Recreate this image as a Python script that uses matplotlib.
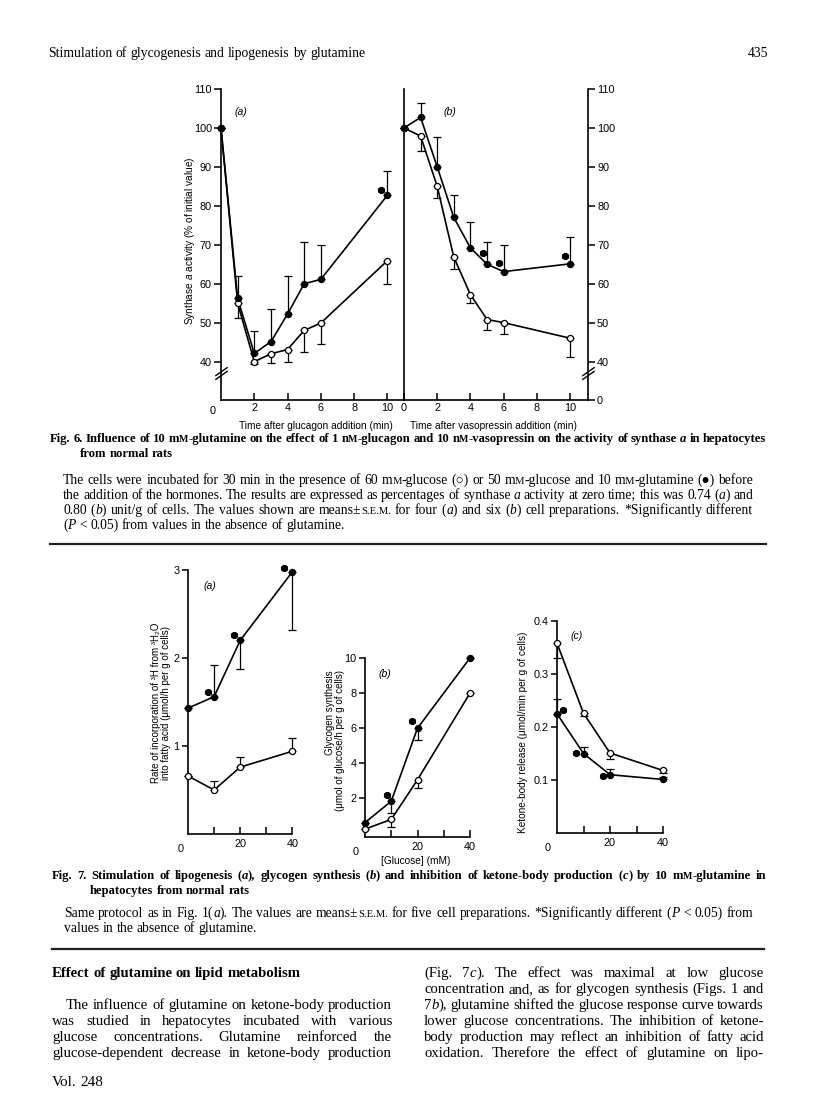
import numpy as np
import matplotlib
matplotlib.use('Agg')
import matplotlib.pyplot as plt
from matplotlib.path import Path
from matplotlib.lines import Line2D

W, H = 816, 1096
SANS = ['Liberation Sans', 'DejaVu Sans']
SERIF = ['Liberation Serif', 'DejaVu Serif']
plt.rcParams['font.family'] = SANS
plt.rcParams['mathtext.fontset'] = 'custom'
plt.rcParams['mathtext.rm'] = 'Liberation Sans'
plt.rcParams['mathtext.it'] = 'Liberation Sans:italic'

# ---------------- Fig. 6 data ----------------
time_min = [0, 1, 2, 3, 4, 5, 6, 10]
glucagon_gln = [100, 56.2, 42.1, 45.1, 52.2, 60.0, 61.1, 82.7]
glucagon_gln_sem = [0, 5.8, 5.8, 8.4, 9.7, 10.8, 8.9, 6.3]
glucagon_ctl = [100, 55.0, 39.9, 42.0, 43.1, 48.0, 49.9, 65.9]
glucagon_ctl_sem = [0, 3.9, 2.3, 3.0, 3.1, 5.6, 5.4, 6.0]
glucagon_sig_t = [9.6]
glucagon_sig_y = [84.1]

vaso_gln = [100, 102.7, 90, 77, 69.2, 65, 63.1, 65.1]
vaso_gln_sem = [0, 3.8, 7.7, 5.9, 6.6, 5.8, 6.9, 6.9]
vaso_ctl = [100, 97.9, 85, 66.8, 57.2, 50.8, 50, 46]
vaso_ctl_sem = [0, 3.9, 3.0, 3.0, 2.2, 2.6, 3.0, 4.7]
vaso_sig_t = [4.75, 5.75, 9.7]
vaso_sig_y = [67.9, 65.3, 67]

fig6_yticks = [40, 50, 60, 70, 80, 90, 100, 110]
fig6_xticks = [0, 2, 4, 6, 8, 10]

# ---------------- Fig. 7 data ----------------
glucose_mM = [0, 10, 20, 40]
lipo_gln = [1.43, 1.56, 2.2, 2.98]
lipo_gln_lo = [0, 0, 0.325, 0.66]
lipo_gln_hi = [0, 0.36, 0, 0]
lipo_ctl = [0.66, 0.5, 0.76, 0.94]
lipo_ctl_hi = [0, 0.1, 0.12, 0.15]
lipo_sig_x = [7.5, 17.75, 36.6]
lipo_sig_y = [1.61, 2.26, 3.02]

glyc_gln = [0.62, 1.84, 6.0, 10.0]
glyc_gln_lo = [0, 0.65, 0.65, 0]
glyc_ctl = [0.25, 0.8, 3.06, 8.0]
glyc_ctl_lo = [0, 0.45, 0.48, 0]
glyc_sig_x = [8.4, 17.8]
glyc_sig_y = [2.2, 6.4]

ket_ctl = [0.358, 0.226, 0.151, 0.118]
ket_ctl_lo = [0.027, 0.006, 0.011, 0.004]
ket_gln = [0.225, 0.150, 0.110, 0.101]
ket_gln_hi = [0.027, 0.013, 0.010, 0.004]
ket_sig_x = [2.3, 7.3, 17.2]
ket_sig_y = [0.233, 0.151, 0.107]

fig = plt.figure(figsize=(W / 100, H / 100), dpi=100)


def px_axes(x0, y0, x1, y1):
    return fig.add_axes([x0 / W, 1 - y1 / H, (x1 - x0) / W, (y1 - y0) / H])


LW = 1.2
MS = 4.4
TICK_FS = 7.8
AST = (6, 2, 0)


def series(ax, x, y, lo, hi, filled):
    lo = np.asarray(lo, float)
    hi = np.asarray(hi, float)
    ax.errorbar(x, y, yerr=[lo, hi], fmt='none', ecolor='k', elinewidth=0.9,
                capsize=2.8, capthick=0.9, zorder=2, clip_on=False)
    ax.plot(x, y, '-', color='k', lw=LW, zorder=3, clip_on=False)
    ax.plot(x, y, 'o', ms=MS, mfc='k' if filled else 'white', mec='k', mew=0.9,
            zorder=4, clip_on=False)


def stars(ax, x, y):
    ax.plot(x, y, ls='none', marker=AST, ms=5, mec='k', mew=2.0, zorder=5, clip_on=False)


# ---------- Fig. 6 axes ----------
K = 0.2467


def fwd(v):
    v = np.asarray(v, float)
    return np.where(v >= 40, v, 40 - (40 - v) * K)


def inv(u):
    u = np.asarray(u, float)
    return np.where(u >= 40, u, 40 - (40 - u) / K)


break_path = Path([(-1, -1.0), (1, 0.4), (-1, -0.4), (1, 1.0)],
                  [Path.MOVETO, Path.LINETO, Path.MOVETO, Path.LINETO])

axA = px_axes(221, 89, 404, 400)
axB = px_axes(404, 89, 588, 400)
for ax, xmax in ((axA, 11.0), (axB, 11.08)):
    ax.set_yscale('function', functions=(fwd, inv))
    ax.set_ylim(0, 110)
    ax.set_xlim(0, xmax)
    ax.patch.set_alpha(0)
    ax.spines['top'].set_visible(False)
    for s in ax.spines.values():
        s.set_linewidth(1.2)
    ax.tick_params(axis='x', direction='in', length=5, width=1.1, pad=2.5,
                   labelsize=TICK_FS)
    ax.tick_params(axis='y', direction='out', length=5, width=1.1, pad=1.5,
                   labelsize=TICK_FS)
    ax.yaxis.set_minor_locator(matplotlib.ticker.NullLocator())
    ax.xaxis.set_minor_locator(matplotlib.ticker.NullLocator())

axA.spines['right'].set_visible(True)
axA.set_yticks(fig6_yticks)
axA.set_yticklabels([str(t) for t in fig6_yticks])
axA.set_xticks(fig6_xticks[1:])
axA.set_xticklabels([str(t) for t in fig6_xticks[1:]])
axA.annotate('0', xy=(-0.5, 0), xycoords=('data', 'axes fraction'),
             xytext=(0, -2.5 - 1.8), textcoords='offset points', ha='center', va='top',
             fontsize=TICK_FS)

axB.spines['left'].set_visible(False)
axB.yaxis.tick_right()
axB.set_yticks([0] + fig6_yticks)
axB.set_yticklabels([str(t) for t in [0] + fig6_yticks])
axB.set_xticks(fig6_xticks)
axB.set_xticklabels([str(t) for t in fig6_xticks])

series(axA, time_min, glucagon_ctl, glucagon_ctl_sem, np.zeros(8), False)
series(axA, time_min, glucagon_gln, np.zeros(8), glucagon_gln_sem, True)
stars(axA, glucagon_sig_t, glucagon_sig_y)
series(axB, time_min, vaso_ctl, vaso_ctl_sem, np.zeros(8), False)
series(axB, time_min, vaso_gln, np.zeros(8), vaso_gln_sem, True)
stars(axB, vaso_sig_t, vaso_sig_y)

axA.plot([0], [28], marker=break_path, ms=9, mec='k', mew=1.0, mfc='none',
         transform=axA.get_yaxis_transform(), clip_on=False, zorder=6)
axB.plot([1], [28], marker=break_path, ms=9, mec='k', mew=1.0, mfc='none',
         transform=axB.get_yaxis_transform(), clip_on=False, zorder=6)

axA.text(0.11, 0.925, '(a)', transform=axA.transAxes, fontsize=7.5, style='italic',
         ha='center', va='center')
axB.text(0.25, 0.925, '(b)', transform=axB.transAxes, fontsize=7.5, style='italic',
         ha='center', va='center')

fig.text(190 / W, 1 - 241 / H, 'Synthase $a$ activity (% of initial value)', rotation=90,
         ha='center', va='center', fontsize=7.3)
fig.text(316 / W, 1 - 426 / H, 'Time after glucagon addition (min)', ha='center',
         va='center', fontsize=7.3)
fig.text(493 / W, 1 - 426 / H, 'Time after vasopressin addition (min)', ha='center',
         va='center', fontsize=7.3)

# ---------- Fig. 7 axes ----------
def fig7_axes(box, xlim, ylim, yticks, ylabels, zero_x):
    ax = px_axes(*box)
    ax.set_xlim(*xlim)
    ax.set_ylim(*ylim)
    ax.patch.set_alpha(0)
    for s in ('top', 'right'):
        ax.spines[s].set_visible(False)
    for s in ('left', 'bottom'):
        ax.spines[s].set_linewidth(1.2)
    ax.spines['bottom'].set_bounds(xlim[0], 40)
    ax.spines['left'].set_bounds(ylim[0], yticks[-1])
    ax.tick_params(axis='x', direction='in', length=5, width=1.1, pad=3.5,
                   labelsize=TICK_FS)
    ax.tick_params(axis='y', direction='out', length=4, width=1.1, pad=2,
                   labelsize=TICK_FS)
    ax.set_xticks([10, 20, 30, 40])
    ax.set_xticklabels(['', '20', '', '40'])
    ax.set_yticks(yticks)
    ax.set_yticklabels(ylabels)
    ax.annotate('0', xy=(zero_x, 0), xycoords=('data', 'axes fraction'),
                xytext=(0, -3.5 - 5 / 1.39), textcoords='offset points',
                ha='center', va='top', fontsize=TICK_FS)
    return ax


ax7a = fig7_axes((188, 570, 295, 834), (0, 41), (0, 3.0), [1, 2, 3], ['1', '2', '3'], -2.9)
series(ax7a, glucose_mM, lipo_ctl, np.zeros(4), lipo_ctl_hi, False)
series(ax7a, glucose_mM, lipo_gln, lipo_gln_lo, lipo_gln_hi, True)
stars(ax7a, lipo_sig_x, lipo_sig_y)
ax7a.text(0.2, 0.94, '(a)', transform=ax7a.transAxes, fontsize=7.5, style='italic',
          ha='center', va='center')

ax7b = fig7_axes((365, 658, 470, 837), (0, 40), (-0.2, 10), [2, 4, 6, 8, 10],
                 ['2', '4', '6', '8', '10'], -3.7)
series(ax7b, glucose_mM, glyc_ctl, glyc_ctl_lo, np.zeros(4), False)
series(ax7b, glucose_mM, glyc_gln, glyc_gln_lo, np.zeros(4), True)
stars(ax7b, glyc_sig_x, glyc_sig_y)
ax7b.text(0.19, 0.91, '(b)', transform=ax7b.transAxes, fontsize=7.5, style='italic',
          ha='center', va='center')

ax7c = fig7_axes((557, 621, 663, 833), (0, 40), (0, 0.4), [0.1, 0.2, 0.3, 0.4],
                 ['0.1', '0.2', '0.3', '0.4'], -3.4)
series(ax7c, glucose_mM, ket_ctl, ket_ctl_lo, np.zeros(4), False)
series(ax7c, glucose_mM, ket_gln, np.zeros(4), ket_gln_hi, True)
stars(ax7c, ket_sig_x, ket_sig_y)
ax7c.text(0.19, 0.93, '(c)', transform=ax7c.transAxes, fontsize=7.5, style='italic',
          ha='center', va='center')

fig.text(161 / W, 1 - 703 / H,
         'Rate of incorporation of \u00b3H from \u00b3H\u2082O\ninto fatty acid (\u03bcmol/h per g of cells)',
         rotation=90, ha='center', va='center', fontsize=7.0, family=SANS,
         multialignment='center', linespacing=0.95)
fig.text(335 / W, 1 - 670 / H,
         'Glycogen synthesis\n(\u03bcmol of glucose/h per g of cells)',
         rotation=90, ha='center', va='top', fontsize=7.0, family=SANS,
         multialignment='right', linespacing=1.0)
fig.text(523 / W, 1 - 732 / H, 'Ketone-body release (\u03bcmol/min per g of cells)',
         rotation=90, ha='center', va='center', fontsize=7.2)
fig.text(416 / W, 1 - 861 / H, '[Glucose] (mM)', ha='center', va='center', fontsize=7.3)

# ---------------- page text ----------------
renderer = fig.canvas.get_renderer()


def parse(word):
    segs, cur, it, sc = [], '', False, False
    for ch in word:
        if ch in '_^':
            if cur:
                segs.append((cur, it, sc))
                cur = ''
            if ch == '_':
                it = not it
            else:
                sc = not sc
        else:
            cur += ch
    if cur:
        segs.append((cur, it, sc))
    return segs


def line(y, x0, x1, s, size, bold=False, justify=True):
    items = []
    for w in s.split(' '):
        segs = []
        for txt, it, sc in parse(w):
            t = fig.text(0, 1 - y / H, txt, fontsize=size * (0.78 if sc else 1),
                         fontstyle='italic' if it else 'normal',
                         fontweight='bold' if bold else 'normal', family=SERIF,
                         va='baseline', ha='left')
            segs.append((t, t.get_window_extent(renderer=renderer).width))
        items.append(segs)
    widths = [sum(wd for _, wd in segs) for segs in items]
    if justify and len(items) > 1:
        gap = (x1 - x0 - sum(widths)) / (len(items) - 1)
    else:
        gap = size * 100 / 72 * 0.25
    x = x0
    for segs, ww in zip(items, widths):
        xx = x
        for t, wd in segs:
            t.set_x(xx / W)
            xx += wd
        x += ww + gap


def rule(y, x0, x1):
    fig.add_artist(Line2D([x0 / W, x1 / W], [1 - y / H] * 2, lw=1.6, color='#222222'))


line(57, 48, 0, 'Stimulation of glycogenesis and lipogenesis by glutamine', 9.8, justify=False)
fig.text(768 / W, 1 - 57 / H, '435', fontsize=9.8, family=SERIF, ha='right', va='baseline')

CAP = 9.1
LEG = 9.8
line(442, 50, 766, 'Fig. 6. Influence of 10 m^M^-glutamine on the effect of 1 n^M^-glucagon and '
     '10 n^M^-vasopressin on the activity of synthase _a_ in hepatocytes', CAP, bold=True)
line(457, 80, 0, 'from normal rats', CAP, bold=True, justify=False)

cap6 = ['The cells were incubated for 30 min in the presence of 60 m^M^-glucose (\u25cb) or '
        '50 m^M^-glucose and 10 m^M^-glutamine (\u25cf) before',
        'the addition of the hormones. The results are expressed as percentages of synthase _a_ '
        'activity at zero time; this was 0.74 (_a_) and',
        '0.80 (_b_) unit/g of cells. The values shown are means\u00b1^S.E.M.^ for four (_a_) '
        'and six (_b_) cell preparations. *Significantly different',
        '(_P_ < 0.05) from values in the absence of glutamine.']
for i, s in enumerate(cap6):
    line(484 + i * 15, 63, 753, s, LEG, justify=(i < len(cap6) - 1))
rule(544, 50, 766)

line(879, 52, 766, 'Fig. 7. Stimulation of lipogenesis (_a_), glycogen synthesis (_b_) and '
     'inhibition of ketone-body production (_c_) by 10 m^M^-glutamine in', CAP, bold=True)
line(894, 90, 0, 'hepatocytes from normal rats', CAP, bold=True, justify=False)
line(917, 64, 753, 'Same protocol as in Fig. 1(_a_). The values are means\u00b1^S.E.M.^ for five '
     'cell preparations. *Significantly different (_P_ < 0.05) from', LEG)
line(932, 64, 0, 'values in the absence of glutamine.', LEG, justify=False)
rule(949, 52, 764)

BS = 10.6
SP = 16.0
Y0 = 977
line(Y0, 52, 0, 'Effect of glutamine on lipid metabolism', BS, bold=True, justify=False)
left = ['The influence of glutamine on ketone-body production',
        'was studied in hepatocytes incubated with various',
        'glucose concentrations. Glutamine reinforced the',
        'glucose-dependent decrease in ketone-body production']
for i, s in enumerate(left):
    line(Y0 + (i + 2) * SP, 66 if i == 0 else 52, 392, s, BS)
right = ['(Fig. 7_c_). The effect was maximal at low glucose',
         'concentration and, as for glycogen synthesis (Figs. 1 and',
         '7_b_), glutamine shifted the glucose response curve towards',
         'lower glucose concentrations. The inhibition of ketone-',
         'body production may reflect an inhibition of fatty acid',
         'oxidation. Therefore the effect of glutamine on lipo-']
for i, s in enumerate(right):
    line(Y0 + i * SP, 424, 764, s, BS)
line(1086, 52, 0, 'Vol. 248', 11, justify=False)

fig.savefig('out.png', dpi=100)
